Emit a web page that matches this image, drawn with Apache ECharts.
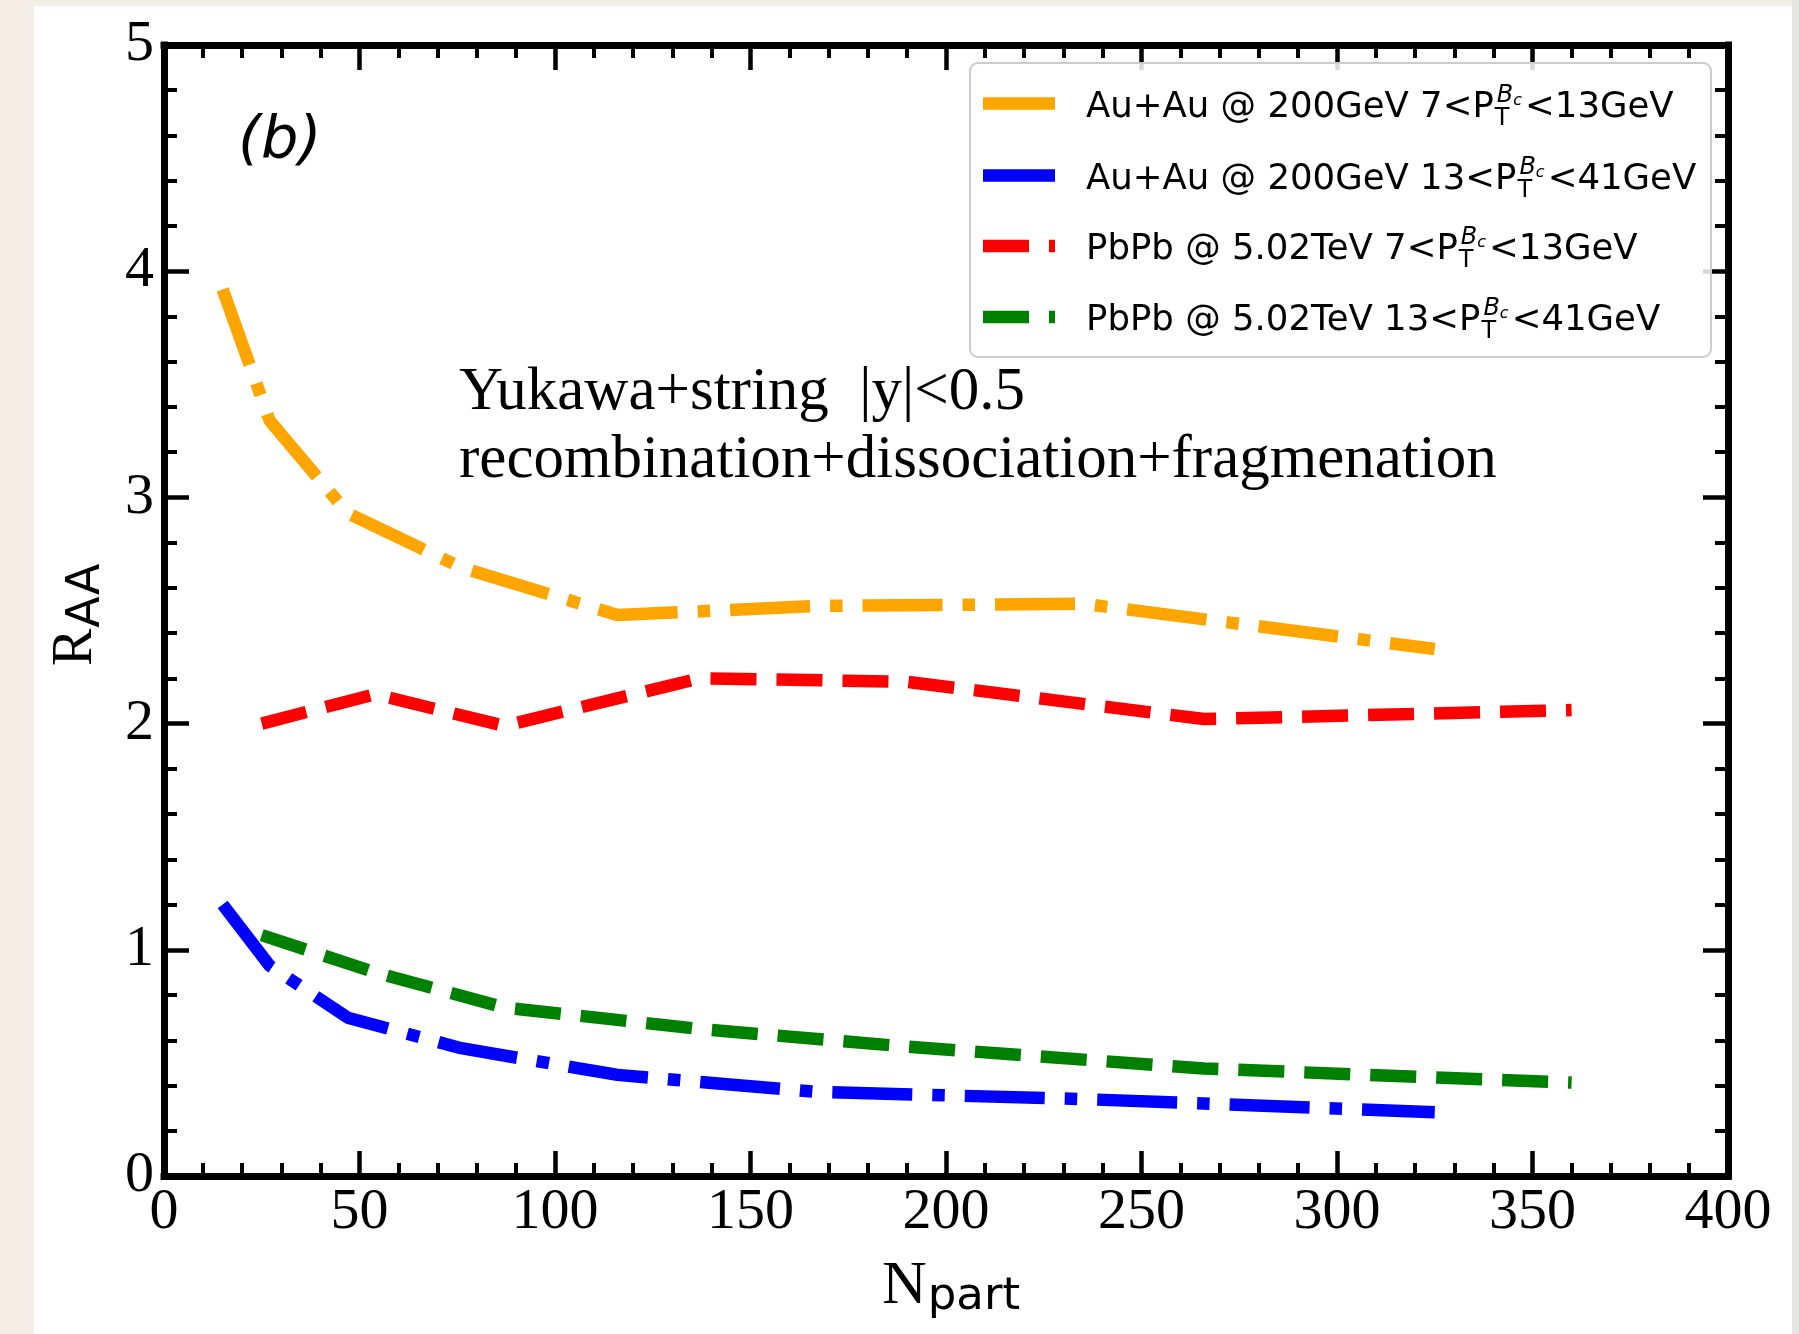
<!DOCTYPE html>
<html><head><meta charset="utf-8">
<script src="https://cdn.jsdelivr.net/npm/echarts@6/dist/echarts.min.js"></script>
<style>html,body{margin:0;padding:0;background:#f3efe7;overflow:hidden}#c{width:1799px;height:1334px}</style>
</head><body><div id="c"></div>
<script>
// ---- data ----
const auNpart   = [15, 27, 47, 76, 116, 167, 235, 325];
const auLowPt   = [3.92, 3.34, 2.93, 2.69, 2.48, 2.52, 2.53, 2.33];     // Au+Au 7<pT<13
const auHighPt  = [1.20, 0.93, 0.70, 0.565, 0.447, 0.372, 0.34, 0.282]; // Au+Au 13<pT<41
const pbNpart   = [25, 54, 87, 137, 190, 266, 360];
const pbLowPt   = [2.00, 2.13, 1.99, 2.20, 2.185, 2.02, 2.06];          // PbPb 7<pT<13
const pbHighPt  = [1.065, 0.90, 0.745, 0.65, 0.572, 0.475, 0.413];      // PbPb 13<pT<41
const xTickValues = [0, 50, 100, 150, 200, 250, 300, 350, 400];
const yTickValues = [0, 1, 2, 3, 4, 5];
const seriesNames = ['Au+Au @ 200GeV 7<PT<13GeV', 'Au+Au @ 200GeV 13<PT<41GeV',
                     'PbPb @ 5.02TeV 7<PT<13GeV', 'PbPb @ 5.02TeV 13<PT<41GeV'];
const legendPrefix = ['Au+Au @ 200GeV 7<P', 'Au+Au @ 200GeV 13<P', 'PbPb @ 5.02TeV 7<P', 'PbPb @ 5.02TeV 13<P'];
const legendSuffix = ['<13GeV', '<41GeV', '<13GeV', '<41GeV'];
const annotationLines = ['Yukawa+string  |y|<0.5', 'recombination+dissociation+fragmenation'];
const panelLabel = '(b)';

// ---- styling ----
const colors = ['#FFA500', '#0000FF', '#FF0000', '#008000'];
const LW = 12.5;
const dashDot = [80, 20, 12.5, 20];
const dashed = [46, 20];
const dashes = [dashDot, dashDot, dashed, dashed];
const pairs = (xs, ys) => xs.map((x, i) => [x, ys[i]]);
const seriesData = [pairs(auNpart, auLowPt), pairs(auNpart, auHighPt), pairs(pbNpart, pbLowPt), pairs(pbNpart, pbHighPt)];

const mc = document.createElement('canvas').getContext('2d');
function tw(s, font) { mc.font = font; return mc.measureText(s).width; }
const K = 0.25;
function T(x, base, str, font, size) {
  return { type: 'text', x: x, y: base - K * size, silent: true, z: 50,
    style: { text: str, font: font, fill: '#000', textAlign: 'left', textVerticalAlign: 'middle' } };
}

const SANS = '"DejaVu Sans"';
const SERIF = '"Liberation Serif"';
const graphics = [];
// white panel
graphics.push({ type: 'rect', silent: true, z: -100, shape: { x: 34, y: 6, width: 1758, height: 1328 }, style: { fill: '#ffffff' } });
graphics.push({ type: 'rect', silent: true, z: -100, shape: { x: 1792, y: 0, width: 7, height: 1334 }, style: { fill: '#e6e6e4' } });

// legend frame
graphics.push({ type: 'rect', silent: true, z: 40, shape: { x: 970, y: 63, width: 741, height: 294, r: 8 },
  style: { fill: 'rgba(255,255,255,0.85)', stroke: '#cccccc', lineWidth: 2 } });
const legendY = [103.5, 175.5, 246, 317];
const mainFont = '35.5px ' + SANS;
const subFont = '24px ' + SANS;
const supFont = 'italic 24px ' + SANS;
const supSubFont = 'italic 16px ' + SANS;
legendY.forEach((hy, i) => {
  graphics.push({ type: 'line', silent: true, z: 45, shape: { x1: 983, y1: hy, x2: 1055, y2: hy },
    style: { stroke: colors[i], lineWidth: LW, lineDash: dashes[i], lineCap: 'butt' } });
  const b = hy + 13;
  const x0 = 1086;
  graphics.push(T(x0, b, legendPrefix[i], mainFont, 35.5));
  const pEnd = x0 + tw(legendPrefix[i], mainFont);
  const tx = pEnd + 1;
  graphics.push(T(tx, b + 8, 'T', subFont, 24));
  const bx = pEnd + 3;
  graphics.push(T(bx, b - 15, 'B', supFont, 24));
  const cx = bx + tw('B', supFont);
  graphics.push(T(cx, b - 12, 'c', supSubFont, 16));
  const sx = Math.max(tx + tw('T', subFont), cx + tw('c', supSubFont)) + 3;
  graphics.push(T(sx, b, legendSuffix[i], mainFont, 35.5));
});

// panel label and annotation
graphics.push(T(238, 157, panelLabel, 'italic 59px ' + SANS, 59));
graphics.push(T(459, 408, annotationLines[0], '61px ' + SERIF, 61));
graphics.push(T(459, 476, annotationLines[1], '61px ' + SERIF, 61));

// x axis title N_part
const nFont = '62px ' + SERIF, partFont = '45px ' + SANS;
graphics.push(T(882, 1302, 'N', nFont, 62));
graphics.push(T(882 + tw('N', nFont) + 1, 1309, 'part', partFont, 45));
// y axis title R_AA (rotated)
const rFont = '56px ' + SERIF, aaFont = '46px ' + SANS;
graphics.push({ type: 'group', x: 90, y: 666, rotation: Math.PI / 2, silent: true, z: 50, children: [
  { type: 'text', x: 0, y: -K * 56, style: { text: 'R', font: rFont, fill: '#000', textAlign: 'left', textVerticalAlign: 'middle' } },
  { type: 'text', x: tw('R', rFont) + 1, y: 9 - K * 46, style: { text: 'AA', font: aaFont, fill: '#000', textAlign: 'left', textVerticalAlign: 'middle' } }
] });

function axisCommon(showLabel, margin) {
  return {
    axisLine: { show: true, onZero: false, lineStyle: { color: '#000', width: 7, cap: 'square' } },
    axisTick: { show: true, inside: true, length: 25, lineStyle: { color: '#000', width: 4.5 } },
    minorTick: { show: true, splitNumber: 5, length: 13, lineStyle: { color: '#000', width: 4 } },
    splitLine: { show: false }, minorSplitLine: { show: false },
    axisLabel: { show: showLabel, color: '#000', fontFamily: SERIF, fontSize: 58, margin: margin }
  };
}
const xMin = xTickValues[0], xMax = xTickValues[xTickValues.length - 1];
const yMin = yTickValues[0], yMax = yTickValues[yTickValues.length - 1];

const option = {
  animation: false,
  backgroundColor: '#f3efe7',
  grid: { left: 164, top: 45, width: 1564, height: 1131, containLabel: false },
  xAxis: [
    Object.assign({ type: 'value', position: 'bottom', min: xMin, max: xMax, interval: xTickValues[1] - xTickValues[0] }, axisCommon(true, 8)),
    Object.assign({ type: 'value', position: 'top', min: xMin, max: xMax, interval: xTickValues[1] - xTickValues[0] }, axisCommon(false, 8))
  ],
  yAxis: [
    Object.assign({ type: 'value', position: 'left', min: yMin, max: yMax, interval: yTickValues[1] - yTickValues[0] }, axisCommon(true, 10)),
    Object.assign({ type: 'value', position: 'right', min: yMin, max: yMax, interval: yTickValues[1] - yTickValues[0] }, axisCommon(false, 10))
  ],
  series: seriesData.map((d, i) => ({
    name: seriesNames[i], type: 'line', data: d, xAxisIndex: 0, yAxisIndex: 0,
    showSymbol: false, symbol: 'none', smooth: false, z: 5,
    lineStyle: { color: colors[i], width: LW, type: dashes[i], cap: 'butt', join: 'round' },
    itemStyle: { color: colors[i] }
  })),
  graphic: graphics
};
const chart = echarts.init(document.getElementById('c'), null, { renderer: 'canvas', width: 1799, height: 1334 });
chart.setOption(option);
</script>
</body></html>
